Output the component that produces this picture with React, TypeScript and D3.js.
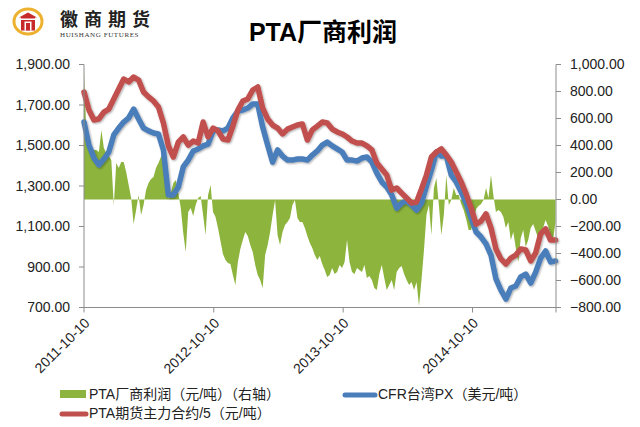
import React from 'react';
import * as d3 from 'd3';

// ---------- data ----------
const START_DATE = '2011-10-10';
const GREEN_STEP_DAYS = 7;
const LINE_STEP_DAYS = 14;

// PTA厂商利润（元/吨）(right axis), weekly samples
const profitValues = [
  944, 478, 404, 381, 367, 367, 352, 515, 381, 344,
  322, 293, -41, 270, 233, 278, 278, 204, 107, 11,
  -181, -78, 33, -115, -41, 70, 122, 152, 167, 233,
  270, 315, 352, 219, 4, 48, 122, 144, 48, -63,
  -248, -389, -93, -63, -122, -41, 11, 26, -115, -263,
  33, 107, -93, -130, -211, -307, -404, -448, -470, -478,
  -559, -633, -463, -367, -300, -241, -270, -337, -389, -485,
  -559, -596, -656, -411, -337, -241, -115, -4, -263, -337,
  -241, -189, -167, -137, -41, -4, -137, -167, -167, -211,
  -270, -322, -359, -411, -448, -418, -478, -522, -574, -559,
  -507, -552, -537, -485, -507, -463, -300, -463, -537, -552,
  -507, -522, -537, -485, -581, -567, -596, -656, -670, -552,
  -485, -581, -670, -633, -596, -670, -537, -507, -493, -552,
  -596, -633, -611, -670, -611, -789, -596, -374, -115, -41,
  -263, 85, 159, -41, -263, -115, 181, -41, -4, 85,
  33, 33, -33, -78, -144, -226, -226, -152, -70, -48,
  -33, -4, 85, 11, 181, 26, -93, -78, -93, -130,
  -211, -167, -300, -241, -359, -463, -285, -226, -352, -300,
  -211, -181, -233, -285, -285, -211, -152, -196, -263, -300,
  -167,
];

// CFR台湾PX（美元/吨）(left axis), fortnightly samples
const pxValues = [
  1616, 1502, 1438, 1404, 1433, 1468, 1552, 1586, 1616, 1636,
  1680, 1631, 1586, 1572, 1562, 1557, 1478, 1256, 1256, 1295,
  1394, 1428, 1473, 1483, 1498, 1507, 1572, 1577, 1572, 1586,
  1636, 1670, 1675, 1685, 1705, 1705, 1591, 1502, 1418, 1478,
  1448, 1428, 1428, 1433, 1433, 1428, 1453, 1473, 1502, 1517,
  1498, 1483, 1468, 1428, 1428, 1423, 1438, 1443, 1418, 1364,
  1320, 1295, 1256, 1191, 1216, 1226, 1206, 1181, 1216, 1300,
  1379, 1468, 1448, 1448, 1354, 1320, 1270, 1216, 1142, 1073,
  1048, 1014, 959, 841, 786, 742, 796, 806, 851, 865,
  821, 875, 944, 979, 925, 930,
];

// PTA期货主力合约/5（元/吨）(left axis), fortnightly samples
const ptaValues = [
  1764, 1675, 1626, 1631, 1665, 1680, 1730, 1779, 1828, 1814,
  1838, 1823, 1764, 1740, 1720, 1690, 1611, 1498, 1443, 1517,
  1542, 1502, 1522, 1512, 1616, 1542, 1586, 1572, 1532, 1527,
  1596, 1675, 1720, 1730, 1774, 1789, 1685, 1631, 1601, 1586,
  1557, 1581, 1591, 1601, 1606, 1527, 1577, 1596, 1616, 1611,
  1581, 1567, 1557, 1542, 1522, 1512, 1512, 1498, 1478, 1414,
  1384, 1354, 1280, 1290, 1265, 1241, 1216, 1221, 1285, 1354,
  1443, 1468, 1483, 1453, 1418, 1369, 1320, 1260, 1191, 1112,
  1127, 1162, 1093, 989, 940, 915, 944, 959, 989, 984,
  930, 969, 1063, 1088, 1033, 1033,
];

const xTickDates = ['2011-10-10', '2012-10-10', '2013-10-10', '2014-10-10'];
const leftTicks = [700, 900, 1100, 1300, 1500, 1700, 1900];
const rightTicks = [-800, -600, -400, -200, 0, 200, 400, 600, 800, 1000];

const titleText = 'PTA厂商利润';
const legendProfit = 'PTA厂商利润（元/吨）（右轴）';
const legendPx = 'CFR台湾PX（美元/吨）';
const legendPta = 'PTA期货主力合约/5（元/吨）';
const logoCn = '徽商期货';
const logoEn = 'HUISHANG FUTURES';

// ---------- styles ----------
const GREEN = '#8DB43E';
const BLUE = '#4A7EBB';
const RED = '#C0504D';
const AXIS = '#8C8C8C';
const LATIN = "'Liberation Sans', Arial, sans-serif";
const CJK = "'Liberation Sans', 'Noto Sans CJK SC', sans-serif";

const PL = 84, PR = 556, PT = 64.5, PB = 307.5;

export default function App() {
  const parse = d3.timeParse('%Y-%m-%d');
  const start = parse(START_DATE) as Date;
  const profitDates = profitValues.map((_, i) => d3.timeDay.offset(start, i * GREEN_STEP_DAYS));
  const lineDates = pxValues.map((_, i) => d3.timeDay.offset(start, i * LINE_STEP_DAYS));
  const end = profitDates[profitDates.length - 1];

  const x = d3.scaleTime().domain([start, end]).range([PL, PR - 0.5]);
  const yL = d3.scaleLinear().domain([700, 1900]).range([PB, PT]);
  const yR = d3.scaleLinear().domain([-800, 1000]).range([PB, PT]);
  const fmt = d3.format(',.2f');

  const area = d3.area<number>()
    .x((_, i) => x(profitDates[i]))
    .y0(yR(0))
    .y1((d) => yR(d));
  const line = d3.line<number>()
    .x((_, i) => x(lineDates[i]))
    .y((d) => yL(d))
    .curve(d3.curveLinear);

  const fmtTick = d3.timeFormat('%Y-%m-%d');

  return (
    <svg width={640} height={427} style={{ position: 'absolute', left: 0, top: 0, background: '#fff' }}
      xmlns="http://www.w3.org/2000/svg">
      <defs>
        <filter id="soft" x="-5%" y="-5%" width="110%" height="110%">
          <feGaussianBlur stdDeviation="0.7" />
        </filter>
        <filter id="shadow" x="-5%" y="-5%" width="110%" height="110%">
          <feGaussianBlur in="SourceAlpha" stdDeviation="1.2" />
          <feOffset dx="0.8" dy="1.2" result="b" />
          <feComponentTransfer><feFuncA type="linear" slope="0.35" /></feComponentTransfer>
          <feMerge><feMergeNode /><feMergeNode in="SourceGraphic" /></feMerge>
        </filter>
      </defs>
      <rect width={640} height={427} fill="#fff" />

      {/* logo */}
      <g>
        <ellipse cx={28} cy={21.5} rx={14} ry={12.5} fill="#fff" stroke="#EDB12F" strokeWidth={3} />
        <path d="M19,17.5 L28,12.5 L37,17.5 L35,17.5 L35,30.5 L21,30.5 L21,17.5 Z" fill="#C62A2A" />
        <rect x={24.5} y={21.5} width={7} height={9} fill="#fff" />
        <rect x={26} y={23} width={4} height={7.5} fill="#C62A2A" />
        <rect x={20} y={18.5} width={16} height={1.5} fill="#fff" />
        <text x={60} y={26} fontFamily="'Noto Sans CJK SC', serif" fontWeight={700} fontSize={18}
          letterSpacing={6} fill="#222">{logoCn}</text>
        <text x={60} y={36.5} fontFamily="'Liberation Serif', serif" fontSize={7} letterSpacing={0.6}
          fill="#333">{logoEn}</text>
      </g>

      {/* title */}
      <text x={323} y={41} textAnchor="middle" fontFamily={CJK} fontWeight={700} fontSize={25} fill="#000">
        {titleText}
      </text>

      {/* green area */}
      <path d={area(profitValues) || ''} fill={GREEN} filter="url(#soft)" />

      {/* lines */}
      <g filter="url(#shadow)">
        <path d={line(pxValues) || ''} fill="none" stroke={BLUE} strokeWidth={5.5} strokeLinejoin="round" strokeLinecap="round" />
        <path d={line(ptaValues) || ''} fill="none" stroke={RED} strokeWidth={5.5} strokeLinejoin="round" strokeLinecap="round" />
      </g>

      {/* axes */}
      <g stroke={AXIS} strokeWidth={1} fill="none">
        <line x1={PL} y1={PT} x2={PL} y2={PB} />
        <line x1={PR} y1={PT} x2={PR} y2={PB} />
        <line x1={PL} y1={PB} x2={PR} y2={PB} />
        {leftTicks.map((t) => (
          <line key={'lt' + t} x1={PL - 5} x2={PL} y1={yL(t)} y2={yL(t)} />
        ))}
        {rightTicks.map((t) => (
          <line key={'rt' + t} x1={PR} x2={PR + 5} y1={yR(t)} y2={yR(t)} />
        ))}
        {xTickDates.map((d) => {
          const xx = x(parse(d) as Date);
          return <line key={'xt' + d} x1={xx} x2={xx} y1={PB} y2={PB + 5} />;
        })}
        <line x1={PR} x2={PR} y1={PB} y2={PB + 5} />
      </g>

      <g fontFamily={LATIN} fontSize={14} fill="#222">
        {leftTicks.map((t) => (
          <text key={'ll' + t} x={70} y={yL(t)} dy="0.35em" textAnchor="end">{fmt(t)}</text>
        ))}
        {rightTicks.map((t) => (
          <text key={'rl' + t} x={570} y={yR(t)} dy="0.35em" textAnchor="start">{fmt(t)}</text>
        ))}
        {xTickDates.map((d) => {
          const xx = x(parse(d) as Date);
          return (
            <text key={'xl' + d} transform={`translate(${xx + 3},${PB + 13}) rotate(-45)`} textAnchor="end" dy="0.35em">
              {fmtTick(parse(d) as Date)}
            </text>
          );
        })}
      </g>

      {/* legend */}
      <g fontFamily={CJK} fontSize={14} fill="#222">
        <rect x={60} y={390} width={26} height={8} fill={GREEN} />
        <text x={89} y={394} dy="0.35em">{legendProfit}</text>
        <line x1={345} x2={375} y1={395} y2={395} stroke={BLUE} strokeWidth={5} strokeLinecap="round" />
        <text x={378} y={394} dy="0.35em">{legendPx}</text>
        <line x1={62} x2={86} y1={414} y2={414} stroke={RED} strokeWidth={5} strokeLinecap="round" />
        <text x={89} y={413} dy="0.35em">{legendPta}</text>
      </g>
    </svg>
  );
}
